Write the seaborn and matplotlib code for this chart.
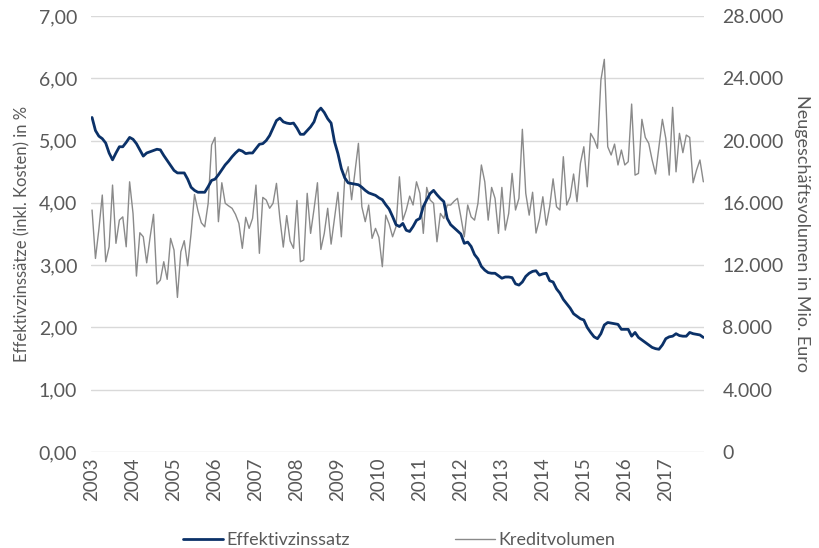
import numpy as np
import pandas as pd
import matplotlib
matplotlib.use("Agg")
import matplotlib.pyplot as plt
import seaborn as sns
from matplotlib.ticker import FuncFormatter

# Effektivzinssatz (%), monthly 2003-2017
rate_2003 = [5.37, 5.16, 5.07, 5.03, 4.96, 4.80, 4.69, 4.80, 4.90, 4.90, 4.97, 5.05]
rate_2004 = [5.02, 4.95, 4.85, 4.75, 4.80, 4.82, 4.84, 4.86, 4.85, 4.76, 4.68, 4.60]
rate_2005 = [4.52, 4.48, 4.48, 4.48, 4.38, 4.25, 4.20, 4.17, 4.17, 4.17, 4.26, 4.36]
rate_2006 = [4.38, 4.45, 4.53, 4.61, 4.67, 4.74, 4.80, 4.85, 4.83, 4.79, 4.80, 4.80]
rate_2007 = [4.87, 4.94, 4.95, 5.00, 5.08, 5.20, 5.32, 5.36, 5.30, 5.28, 5.27, 5.28]
rate_2008 = [5.20, 5.10, 5.10, 5.16, 5.22, 5.30, 5.46, 5.52, 5.45, 5.35, 5.28, 4.98]
rate_2009 = [4.79, 4.55, 4.40, 4.32, 4.31, 4.30, 4.29, 4.25, 4.20, 4.16, 4.14, 4.12]
rate_2010 = [4.08, 4.05, 3.97, 3.90, 3.78, 3.65, 3.62, 3.67, 3.56, 3.54, 3.62, 3.72]
rate_2011 = [3.75, 3.94, 4.05, 4.15, 4.20, 4.13, 4.07, 4.02, 3.75, 3.65, 3.60, 3.55]
rate_2012 = [3.50, 3.35, 3.37, 3.30, 3.17, 3.10, 2.98, 2.92, 2.88, 2.87, 2.87, 2.83]
rate_2013 = [2.79, 2.81, 2.81, 2.80, 2.70, 2.68, 2.73, 2.82, 2.87, 2.90, 2.91, 2.84]
rate_2014 = [2.86, 2.87, 2.75, 2.73, 2.62, 2.55, 2.45, 2.38, 2.31, 2.22, 2.18, 2.14]
rate_2015 = [2.12, 2.00, 1.92, 1.85, 1.82, 1.90, 2.04, 2.08, 2.07, 2.06, 2.05, 1.97]
rate_2016 = [1.97, 1.97, 1.86, 1.92, 1.84, 1.80, 1.76, 1.72, 1.68, 1.66, 1.65, 1.72]
rate_2017 = [1.82, 1.85, 1.86, 1.90, 1.87, 1.86, 1.86, 1.92, 1.90, 1.89, 1.88, 1.84]

# Kreditvolumen (Mio. Euro), monthly 2003-2017
vol_2003 = [15540, 12430, 14300, 16500, 12220, 13180, 17140, 13400, 14890, 15100, 13180, 17350]
vol_2004 = [15320, 11300, 14080, 13820, 12150, 13800, 15260, 10790, 11040, 12220, 11090, 13720]
vol_2005 = [12970, 9930, 12860, 13570, 11960, 14040, 16540, 15500, 14720, 14460, 15970, 19710]
vol_2006 = [20200, 14790, 17290, 15970, 15800, 15650, 15260, 14680, 13080, 15070, 14360, 15000]
vol_2007 = [17140, 12760, 16350, 16180, 15650, 15970, 17250, 15000, 13160, 15180, 13550, 13080]
vol_2008 = [16150, 12220, 12330, 16610, 14040, 15600, 17290, 13010, 14040, 15650, 13350, 15000]
vol_2009 = [16680, 13820, 17570, 18320, 16200, 18000, 19820, 15750, 14790, 15860, 13720, 14360]
vol_2010 = [13780, 11900, 15210, 14640, 13820, 14460, 17670, 14890, 15540, 16430, 15860, 17350]
vol_2011 = [16610, 14040, 16990, 16180, 15970, 13500, 15320, 15000, 15860, 15860, 16100, 16290]
vol_2012 = [15100, 13820, 15860, 15100, 14890, 15970, 18430, 17350, 14890, 16990, 16290, 14040]
vol_2013 = [16990, 14250, 15320, 17890, 15540, 16290, 20720, 16610, 15210, 16680, 14060, 14950]
vol_2014 = [16390, 14570, 15750, 17540, 15750, 15540, 18960, 15860, 16390, 17850, 16070, 18530]
vol_2015 = [19600, 17030, 20460, 20080, 19500, 23880, 25210, 19600, 19070, 19770, 18430, 19390]
vol_2016 = [18430, 18640, 22340, 17780, 17890, 21360, 20200, 19820, 18750, 17850, 19600, 21360]
vol_2017 = [20140, 17780, 22130, 17990, 20460, 19220, 20350, 20200, 17290, 18100, 18750, 17350]

years = list(range(2003, 2018))

rate = sum([rate_2003, rate_2004, rate_2005, rate_2006, rate_2007, rate_2008, rate_2009,
            rate_2010, rate_2011, rate_2012, rate_2013, rate_2014, rate_2015, rate_2016,
            rate_2017], [])
volume = sum([vol_2003, vol_2004, vol_2005, vol_2006, vol_2007, vol_2008, vol_2009,
              vol_2010, vol_2011, vol_2012, vol_2013, vol_2014, vol_2015, vol_2016,
              vol_2017], [])

df = pd.DataFrame({"Monat": np.arange(len(rate)), "Effektivzinssatz": rate,
                   "Kreditvolumen": volume})

sns.set_theme(style="white")
plt.rcParams["font.family"] = ["Lato", "DejaVu Sans"]

grey_text = "#595959"
navy = "#0B3168"

fig, ax = plt.subplots(figsize=(8.2, 5.48), dpi=100)
fig.subplots_adjust(left=0.111, right=0.859, top=0.971, bottom=0.175)
ax2 = ax.twinx()

# volume on the secondary axis (below), rate on top
sns.lineplot(data=df, x="Monat", y="Kreditvolumen", ax=ax2, color="#8a8a8a",
             linewidth=1.0, label="Kreditvolumen", legend=False)
sns.lineplot(data=df, x="Monat", y="Effektivzinssatz", ax=ax, color=navy,
             linewidth=2.0, label="Effektivzinssatz", legend=False)

ax.set_zorder(ax2.get_zorder() + 1)
ax.patch.set_visible(False)

ax.set_xlim(-0.3, len(rate) - 0.7)
ax.set_ylim(0, 7)
ax2.set_ylim(0, 28000)
ax.set_yticks(np.arange(0, 8, 1))
ax2.set_yticks(np.arange(0, 28001, 4000))
ax.yaxis.set_major_formatter(FuncFormatter(lambda v, p: f"{v:.2f}".replace(".", ",")))
ax2.yaxis.set_major_formatter(FuncFormatter(lambda v, p: f"{int(v):,}".replace(",", ".")))

ax.set_xticks([12 * i for i in range(len(years))])
ax.set_xticklabels([str(y) for y in years], rotation=90)

ax2.grid(axis="y", color="#d9d9d9", linewidth=1.0)
ax.grid(False)
for a in (ax, ax2):
    for s in a.spines.values():
        s.set_visible(False)
    a.tick_params(length=0, colors=grey_text, labelsize=14)
ax.tick_params(axis="x", pad=4, labelsize=13.5)
ax.tick_params(axis="y", pad=10)
ax2.tick_params(axis="y", pad=13)

ax.set_xlabel("")
ax.set_ylabel("Effektivzinssätze (inkl. Kosten) in %", color=grey_text, fontsize=12, labelpad=6)
ax2.set_ylabel("Neugeschäftsvolumen in Mio. Euro", color=grey_text, fontsize=13,
               rotation=270, labelpad=19)

h1, l1 = ax.get_legend_handles_labels()
h2, l2 = ax2.get_legend_handles_labels()
fig.legend(h1 + h2, l1 + l2, loc="lower center", ncol=2, frameon=False,
           bbox_to_anchor=(0.487, -0.03), fontsize=13, labelcolor=grey_text,
           handlelength=2.2, handletextpad=0.2, columnspacing=5.8)

fig.savefig("out.png", dpi=100)
